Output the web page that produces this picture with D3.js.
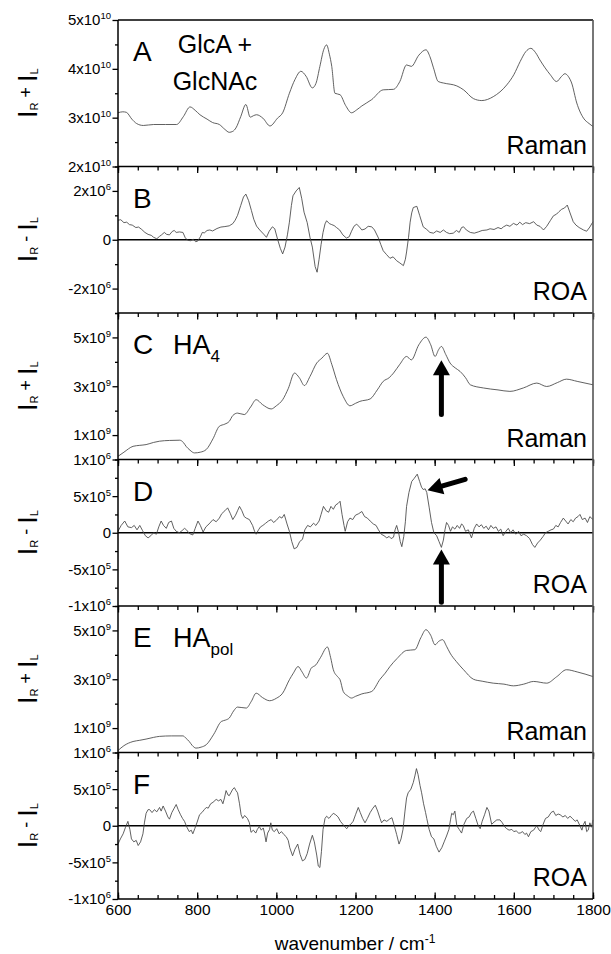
<!DOCTYPE html>
<html>
<head>
<meta charset="utf-8">
<script src="https://cdnjs.cloudflare.com/ajax/libs/d3/7.8.5/d3.min.js"></script>
<style>
  body { margin: 0; background: #fff; }
  svg text { font-family: "Liberation Sans", Arial, sans-serif; fill: #000; }
</style>
</head>
<body>
<div id="chart"></div>
<script>
// wavenumber ticks
var xTicks = [600, 800, 1000, 1200, 1400, 1600, 1800];
var xMinor = d3.range(600, 1801, 50);

// A: GlcA + GlcNAc Raman (units 1e10)
var glcRaman = [[600,3.10],[612,3.12],[621,3.11],[635,2.97],[647,2.88],[664,2.84],[690,2.86],[720,2.86],[748,2.86],[765,3.02],[782,3.22],[795,3.15],[807,3.06],[825,2.97],[839,2.90],[856,2.86],[870,2.76],[881,2.70],[890,2.72],[898,2.79],[910,3.02],[923,3.27],[934,3.01],[942,3.04],[950,3.06],[966,2.99],[984,2.83],[1003,2.99],[1016,3.10],[1033,3.50],[1047,3.78],[1062,3.95],[1075,3.85],[1091,3.61],[1100,3.70],[1110,4.05],[1120,4.40],[1127,4.49],[1134,4.30],[1140,4.05],[1148,3.50],[1161,3.47],[1175,3.25],[1190,3.10],[1203,3.16],[1216,3.24],[1241,3.37],[1270,3.57],[1296,3.58],[1312,3.74],[1329,4.08],[1341,4.05],[1360,4.28],[1378,4.39],[1388,4.25],[1397,4.02],[1409,3.74],[1422,3.71],[1456,3.65],[1473,3.57],[1498,3.39],[1519,3.35],[1548,3.43],[1582,3.67],[1600,3.88],[1616,4.15],[1630,4.35],[1643,4.42],[1655,4.33],[1666,4.18],[1692,3.88],[1708,3.74],[1720,3.84],[1729,3.90],[1738,3.84],[1746,3.71],[1759,3.30],[1776,2.99],[1790,2.88],[1800,2.82]];

// B: GlcA + GlcNAc ROA (units 1e6)
var glcROA = [[600,0.80],[607,0.82],[615,0.70],[622,0.72],[629,0.62],[636,0.60],[645,0.50],[652,0.52],[660,0.42],[668,0.30],[676,0.22],[684,0.18],[690,0.10],[698,0.04],[705,0.14],[710,0.20],[717,0.30],[723,0.22],[730,0.20],[737,0.34],[742,0.38],[747,0.30],[755,0.32],[764,0.30],[770,0.08],[776,-0.02],[783,-0.04],[790,0.02],[796,-0.08],[801,-0.06],[808,0.12],[813,0.30],[818,0.28],[825,0.38],[832,0.40],[839,0.36],[850,0.46],[860,0.52],[870,0.54],[881,0.57],[890,0.66],[896,0.80],[902,1.00],[910,1.40],[917,1.75],[923,1.87],[930,1.60],[937,1.20],[943,0.84],[950,0.56],[958,0.40],[968,0.23],[975,0.10],[982,0.35],[990,0.53],[996,0.45],[1003,0.03],[1010,-0.35],[1016,-0.58],[1022,-0.30],[1028,0.20],[1033,0.72],[1038,1.40],[1042,1.80],[1050,2.00],[1058,2.14],[1064,1.70],[1070,1.13],[1078,0.70],[1085,0.10],[1091,-0.30],[1098,-1.10],[1103,-1.33],[1108,-0.80],[1113,-0.20],[1118,0.30],[1123,0.65],[1127,0.78],[1134,0.66],[1140,0.62],[1146,0.58],[1152,0.50],[1160,0.40],[1168,0.20],[1177,0.07],[1184,0.12],[1190,0.35],[1196,0.55],[1203,0.64],[1210,0.52],[1216,0.40],[1224,0.44],[1232,0.55],[1241,0.53],[1248,0.40],[1258,0.07],[1264,-0.20],[1270,-0.45],[1278,-0.60],[1287,-0.76],[1295,-0.70],[1304,-0.86],[1312,-0.95],[1321,-1.06],[1326,-0.80],[1329,-0.50],[1334,0.10],[1338,0.72],[1342,1.10],[1346,1.32],[1355,1.37],[1362,1.00],[1371,0.53],[1380,0.42],[1388,0.30],[1397,0.27],[1405,0.36],[1414,0.30],[1422,0.40],[1430,0.30],[1438,0.25],[1447,0.27],[1455,0.38],[1462,0.30],[1468,0.50],[1473,0.53],[1480,0.40],[1490,0.30],[1500,0.27],[1510,0.32],[1520,0.38],[1532,0.40],[1540,0.45],[1550,0.42],[1560,0.50],[1568,0.45],[1574,0.53],[1582,0.60],[1590,0.55],[1599,0.67],[1608,0.60],[1615,0.72],[1622,0.62],[1630,0.70],[1640,0.66],[1650,0.74],[1658,0.60],[1666,0.55],[1675,0.40],[1683,0.55],[1692,0.78],[1700,0.98],[1708,1.05],[1714,1.15],[1721,1.25],[1728,1.30],[1735,1.42],[1742,1.10],[1750,0.74],[1757,0.60],[1765,0.50],[1776,0.40],[1784,0.35],[1792,0.52],[1800,0.74]];

// C: HA4 Raman (units 1e9)
var ha4Raman = [[600,0.13],[615,0.30],[638,0.54],[655,0.58],[671,0.61],[690,0.70],[705,0.75],[730,0.78],[756,0.79],[765,0.70],[772,0.54],[782,0.38],[793,0.27],[808,0.30],[823,0.41],[840,0.85],[856,1.36],[870,1.45],[881,1.56],[890,1.80],[902,1.90],[919,1.84],[935,2.15],[949,2.45],[965,2.25],[987,2.07],[1000,2.20],[1016,2.45],[1030,2.90],[1046,3.54],[1058,3.35],[1071,3.03],[1085,3.40],[1102,3.95],[1115,4.15],[1129,4.35],[1140,3.90],[1152,3.27],[1169,2.58],[1186,2.20],[1200,2.30],[1211,2.38],[1237,2.48],[1255,2.85],[1270,3.20],[1285,3.35],[1296,3.54],[1312,3.90],[1329,4.22],[1341,4.08],[1360,4.70],[1378,5.01],[1390,4.70],[1401,4.22],[1410,4.50],[1417,4.63],[1428,4.30],[1439,3.95],[1452,3.75],[1464,3.61],[1478,3.35],[1490,3.06],[1523,2.93],[1560,2.85],[1590,2.79],[1624,2.93],[1658,3.13],[1683,2.99],[1710,3.15],[1733,3.29],[1760,3.20],[1800,3.06]];

// D: HA4 ROA (units 1e6)
var ha4ROA = [[600,0.02],[608,0.10],[617,0.16],[625,0.08],[634,0.07],[641,0.10],[648,0.04],[655,0.10],[662,0.03],[669,-0.04],[676,-0.07],[683,-0.04],[690,0.00],[697,-0.02],[703,0.08],[709,0.16],[715,0.10],[722,0.06],[728,0.14],[735,0.16],[741,0.06],[747,0.02],[755,0.00],[762,0.03],[768,0.06],[773,0.04],[780,-0.01],[789,-0.03],[795,0.06],[802,0.16],[808,0.10],[815,0.01],[822,0.08],[830,0.12],[840,0.18],[848,0.15],[856,0.20],[862,0.26],[870,0.30],[877,0.34],[884,0.26],[890,0.18],[897,0.24],[902,0.30],[907,0.36],[913,0.30],[919,0.22],[924,0.20],[932,0.18],[940,0.10],[945,0.02],[949,-0.02],[955,0.04],[960,0.08],[966,0.10],[973,0.13],[980,0.16],[987,0.18],[993,0.14],[1000,0.17],[1008,0.22],[1014,0.20],[1020,0.25],[1027,0.12],[1033,0.02],[1039,-0.12],[1045,-0.22],[1052,-0.20],[1059,-0.12],[1066,-0.09],[1072,0.04],[1079,0.10],[1086,0.08],[1094,0.13],[1100,0.10],[1108,0.16],[1113,0.25],[1119,0.36],[1126,0.30],[1132,0.28],[1138,0.36],[1144,0.32],[1150,0.38],[1156,0.40],[1161,0.43],[1166,0.25],[1171,0.10],[1174,0.02],[1180,0.15],[1186,0.20],[1193,0.18],[1200,0.24],[1208,0.26],[1216,0.29],[1223,0.22],[1230,0.20],[1237,0.16],[1245,0.12],[1252,0.10],[1258,0.04],[1265,-0.02],[1272,-0.04],[1279,-0.07],[1285,-0.05],[1290,-0.08],[1296,-0.06],[1300,0.04],[1304,0.10],[1309,0.00],[1313,-0.12],[1317,-0.19],[1322,-0.05],[1326,0.15],[1329,0.36],[1335,0.55],[1342,0.70],[1348,0.74],[1356,0.80],[1362,0.70],[1367,0.62],[1371,0.59],[1376,0.60],[1380,0.55],[1386,0.35],[1392,0.14],[1398,0.00],[1405,-0.04],[1411,-0.12],[1417,-0.20],[1422,-0.10],[1426,0.04],[1430,0.14],[1435,0.10],[1440,0.02],[1445,0.08],[1451,0.05],[1457,0.10],[1463,0.06],[1468,0.12],[1472,0.10],[1478,0.02],[1485,0.04],[1493,-0.07],[1500,0.06],[1506,0.12],[1512,0.08],[1518,0.11],[1524,0.06],[1530,0.09],[1536,0.04],[1542,0.10],[1548,0.06],[1555,0.08],[1561,0.02],[1567,0.05],[1573,-0.04],[1580,0.02],[1586,0.06],[1592,0.00],[1598,0.04],[1605,-0.02],[1612,0.02],[1618,-0.04],[1625,-0.02],[1632,-0.04],[1640,-0.08],[1647,-0.16],[1653,-0.20],[1660,-0.14],[1667,-0.10],[1674,-0.05],[1680,0.00],[1687,0.02],[1694,0.04],[1700,0.05],[1706,0.10],[1712,0.08],[1718,0.14],[1725,0.20],[1731,0.16],[1737,0.12],[1744,0.18],[1750,0.15],[1756,0.20],[1762,0.22],[1767,0.25],[1773,0.18],[1780,0.20],[1786,0.14],[1792,0.22],[1800,0.18]];

// E: HApol Raman (units 1e9)
var hapolRaman = [[600,0.08],[615,0.28],[638,0.45],[655,0.50],[671,0.55],[690,0.62],[705,0.66],[735,0.68],[764,0.68],[772,0.58],[780,0.45],[788,0.28],[797,0.18],[810,0.22],[823,0.32],[842,0.75],[861,1.27],[872,1.33],[881,1.41],[892,1.70],[902,1.86],[924,1.82],[937,2.10],[949,2.43],[965,2.25],[983,2.12],[1000,2.22],[1016,2.43],[1033,2.98],[1043,3.25],[1055,3.52],[1065,3.30],[1076,3.05],[1088,3.45],[1100,3.59],[1112,3.90],[1129,4.32],[1137,3.90],[1144,3.39],[1155,3.10],[1161,2.98],[1169,2.50],[1180,2.32],[1190,2.23],[1200,2.30],[1216,2.40],[1241,2.50],[1262,3.00],[1275,3.25],[1287,3.52],[1305,3.85],[1329,4.18],[1350,4.21],[1365,4.70],[1378,5.03],[1390,4.80],[1401,4.41],[1410,4.55],[1420,4.62],[1430,4.35],[1439,4.07],[1455,3.72],[1473,3.39],[1498,3.00],[1520,2.92],[1548,2.84],[1575,2.80],[1599,2.73],[1625,2.80],[1650,2.91],[1683,2.84],[1708,3.10],[1733,3.39],[1760,3.30],[1800,3.11]];

// F: HApol ROA (units 1e6)
var hapolROA = [[600,-0.25],[606,-0.18],[613,-0.11],[619,-0.02],[625,0.06],[630,-0.05],[634,-0.18],[640,-0.22],[646,-0.20],[651,-0.27],[657,-0.22],[663,-0.11],[667,0.05],[671,0.17],[676,0.22],[680,0.22],[686,0.18],[692,0.22],[698,0.19],[705,0.25],[709,0.20],[714,0.27],[720,0.20],[726,0.12],[730,0.09],[736,0.18],[742,0.24],[747,0.29],[752,0.22],[758,0.15],[763,0.10],[768,0.06],[774,-0.02],[780,-0.08],[785,-0.06],[789,-0.11],[794,-0.04],[800,0.05],[806,0.15],[812,0.18],[818,0.22],[823,0.25],[828,0.24],[834,0.30],[840,0.32],[848,0.36],[854,0.34],[860,0.36],[865,0.30],[869,0.38],[873,0.48],[878,0.42],[881,0.41],[886,0.46],[890,0.50],[894,0.52],[898,0.48],[902,0.45],[907,0.30],[911,0.15],[915,0.10],[920,0.14],[927,0.10],[932,0.04],[936,-0.09],[942,-0.06],[948,-0.10],[952,-0.05],[957,-0.01],[962,-0.06],[967,-0.03],[970,-0.10],[974,-0.22],[978,-0.10],[983,-0.05],[986,0.04],[990,-0.06],[995,-0.08],[1001,-0.04],[1007,-0.11],[1013,-0.08],[1019,-0.12],[1025,-0.15],[1030,-0.20],[1034,-0.30],[1041,-0.41],[1047,-0.32],[1054,-0.25],[1060,-0.39],[1066,-0.48],[1072,-0.46],[1078,-0.38],[1084,-0.25],[1091,-0.13],[1096,-0.22],[1102,-0.40],[1106,-0.55],[1110,-0.57],[1114,-0.35],[1118,-0.05],[1123,0.10],[1127,0.13],[1133,0.10],[1139,0.14],[1144,0.17],[1150,0.15],[1156,0.12],[1162,0.06],[1168,0.02],[1174,-0.02],[1178,-0.04],[1183,0.00],[1188,0.02],[1194,0.06],[1200,0.15],[1207,0.25],[1212,0.18],[1218,0.10],[1224,0.04],[1230,0.10],[1237,0.18],[1244,0.24],[1250,0.28],[1256,0.20],[1262,0.10],[1266,0.04],[1272,0.08],[1279,0.06],[1286,0.09],[1292,0.11],[1298,0.00],[1304,-0.12],[1310,-0.25],[1315,-0.18],[1320,-0.05],[1325,0.20],[1329,0.38],[1333,0.45],[1340,0.50],[1346,0.59],[1350,0.68],[1354,0.78],[1358,0.70],[1363,0.55],[1367,0.45],[1372,0.30],[1377,0.18],[1380,0.10],[1386,-0.05],[1392,-0.15],[1398,-0.18],[1404,-0.28],[1411,-0.36],[1418,-0.30],[1424,-0.22],[1430,-0.14],[1436,-0.05],[1440,0.08],[1443,0.17],[1447,0.15],[1451,0.20],[1456,0.00],[1462,-0.05],[1468,-0.10],[1474,0.02],[1481,0.10],[1487,0.12],[1493,0.18],[1498,0.20],[1504,0.10],[1510,0.00],[1515,-0.04],[1520,0.06],[1526,0.15],[1532,0.25],[1537,0.20],[1544,0.02],[1550,0.05],[1557,0.08],[1565,0.08],[1571,0.04],[1576,-0.01],[1582,-0.04],[1588,-0.06],[1595,-0.05],[1600,-0.08],[1606,-0.07],[1612,-0.10],[1616,-0.10],[1622,-0.08],[1628,-0.12],[1632,-0.10],[1637,-0.15],[1643,-0.08],[1650,-0.06],[1655,-0.02],[1658,0.00],[1664,-0.06],[1668,-0.08],[1674,0.02],[1680,0.10],[1687,0.12],[1694,0.18],[1700,0.20],[1706,0.14],[1712,0.16],[1717,0.15],[1724,0.12],[1730,0.14],[1736,0.10],[1742,0.13],[1748,0.10],[1755,0.06],[1760,0.08],[1767,0.00],[1772,-0.06],[1776,0.02],[1780,0.06],[1784,-0.08],[1788,-0.06],[1792,0.04],[1796,-0.02],[1800,0.08]];

// y tick labels: [value, text, superscript]
var aLabels = [[5,"5x10","10"],[4,"4x10","10"],[3,"3x10","10"],[2,"2x10","10"]];
var bLabels = [[2,"2x10","6"],[0,"0",""],[-2,"-2x10","6"]];
var ramanHALabels = [[5,"5x10","9"],[3,"3x10","9"],[1,"1x10","9"]];
var roaHALabels = [[1,"1x10","6"],[0.5,"5x10","5"],[0,"0",""],[-0.5,"-5x10","5"],[-1,"-1x10","6"]];

// arrows drawn in panels C and D: [panel, x0, y0, x1 (tip), y1 (tip)]
var arrowMarks = [[2,1417,1.84,1417,4.06],[3,1417,-0.95,1417,-0.23],[3,1477,0.73,1382,0.58]];

var panels = [
  {data: glcRaman, domain: [2, 5], major: [2,3,4,5], minor: [2.5,3.5,4.5], labels: aLabels, sign: "+", letter: "A", tag: "Raman", smooth: true},
  {data: glcROA, domain: [-3, 3], major: [-2,0,2], minor: [-3,-1,1,3], labels: bLabels, sign: "-", letter: "B", tag: "ROA", zero: true},
  {data: ha4Raman, domain: [0, 6], major: [1,3,5], minor: [0,2,4,6], labels: ramanHALabels, sign: "+", letter: "C", tag: "Raman", smooth: true, sub: "4"},
  {data: ha4ROA, domain: [-1, 1], major: [-1,-0.5,0,0.5,1], minor: [-0.75,-0.25,0.25,0.75], labels: roaHALabels, sign: "-", letter: "D", tag: "ROA", zero: true},
  {data: hapolRaman, domain: [0, 6], major: [1,3,5], minor: [0,2,4,6], labels: ramanHALabels, sign: "+", letter: "E", tag: "Raman", smooth: true, sub: "pol"},
  {data: hapolROA, domain: [-1, 1], major: [-1,-0.5,0,0.5,1], minor: [-0.75,-0.25,0.25,0.75], labels: roaHALabels, sign: "-", letter: "F", tag: "ROA", zero: true}
];

var width = 611, height = 954;
var left = 118, right = 593, top0 = 20, ph = 146.5;

var svg = d3.select("#chart").append("svg")
  .attr("width", width)
  .attr("height", height);

var x = d3.scaleLinear().domain([600, 1800]).range([left, right]);

panels.forEach(function(p, i){
  var top = top0 + i*ph, bottom = top + ph;
  var y = d3.scaleLinear().domain(p.domain).range([bottom, top]);
  p.y = y;
  var g = svg.append("g");

  // ticks on the top edge of every panel after the first
  if (i > 0) {
    var tMinor = g.append("g").attr("transform", "translate(0," + top + ")")
      .call(d3.axisBottom(x).tickValues(xMinor).tickSize(4).tickFormat(""));
    var tMajor = g.append("g").attr("transform", "translate(0," + top + ")")
      .call(d3.axisBottom(x).tickValues(xTicks).tickSize(6.5).tickFormat(""));
    tMinor.select(".domain").remove();
    tMajor.select(".domain").remove();
  }

  // left axis ticks (outward)
  var lMinor = g.append("g").attr("transform", "translate(" + left + ",0)")
    .call(d3.axisLeft(y).tickValues(p.minor).tickSize(3).tickFormat(""));
  var lMajor = g.append("g").attr("transform", "translate(" + left + ",0)")
    .call(d3.axisLeft(y).tickValues(p.major).tickSize(5.5).tickFormat(""));
  lMinor.select(".domain").remove();
  lMajor.select(".domain").remove();
  g.selectAll(".tick line").attr("stroke", "#000").attr("stroke-width", 1.3);

  // tick labels with superscripts
  p.labels.forEach(function(l){
    var t = g.append("text")
      .attr("x", 111)
      .attr("y", y(l[0]))
      .attr("dy", "0.36em")
      .attr("text-anchor", "end")
      .style("font-size", "15px");
    t.append("tspan").text(l[1]);
    if (l[2]) t.append("tspan").attr("dy", -6).style("font-size", "9.5px").text(l[2]);
  });

  // separator on top of each panel
  g.append("line")
    .attr("x1", left).attr("x2", right)
    .attr("y1", top).attr("y2", top)
    .attr("stroke", "#000").attr("stroke-width", 1.5);

  if (p.zero) {
    g.append("line")
      .attr("x1", left).attr("x2", right)
      .attr("y1", y(0)).attr("y2", y(0))
      .attr("stroke", "#000").attr("stroke-width", 1.3);
  }

  var line = d3.line()
    .x(function(d){ return x(d[0]); })
    .y(function(d){ return y(d[1]); })
    .curve(p.smooth ? d3.curveMonotoneX : d3.curveLinear);

  g.append("path")
    .datum(p.data)
    .attr("d", line)
    .attr("fill", "none")
    .attr("stroke", "#444")
    .attr("stroke-width", 0.85);

  // panel letter and tag
  g.append("text")
    .attr("x", 133).attr("y", top + 41)
    .style("font-size", "28px")
    .text(p.letter);

  g.append("text")
    .attr("x", 587).attr("y", bottom - 13)
    .attr("text-anchor", "end")
    .style("font-size", "25px")
    .text(p.tag);

  if (p.sub) {
    var ht = g.append("text")
      .attr("x", 173).attr("y", top + 41)
      .style("font-size", "27px");
    ht.append("tspan").text("HA");
    ht.append("tspan").attr("dy", 8).style("font-size", "17px").text(p.sub);
  }

  // y axis title
  var yl = g.append("text")
    .attr("transform", "translate(37," + ((top + bottom)/2) + ") rotate(-90)")
    .attr("text-anchor", "middle")
    .style("font-size", "27px");
  yl.append("tspan").text("I");
  yl.append("tspan").attr("dy", 1).style("font-size", "11px").text("R");
  yl.append("tspan").attr("dy", -6).style("font-size", "18px").text(p.sign == "+" ? " + " : " - ");
  yl.append("tspan").attr("dy", 5).text("I");
  yl.append("tspan").attr("dy", 1).style("font-size", "11px").text("L");
});

// sample name in panel A
svg.append("text").attr("x", 215).attr("y", top0 + 33)
  .attr("text-anchor", "middle").style("font-size", "25px").text("GlcA +");
svg.append("text").attr("x", 215).attr("y", top0 + 70)
  .attr("text-anchor", "middle").style("font-size", "25px").text("GlcNAc");

// left axis line, right border, bottom axis
var bottomY = top0 + 6*ph;
svg.append("line").attr("x1", left).attr("x2", left).attr("y1", top0).attr("y2", bottomY)
  .attr("stroke", "#000").attr("stroke-width", 1.5);
svg.append("line").attr("x1", right).attr("x2", right).attr("y1", top0).attr("y2", bottomY)
  .attr("stroke", "#555").attr("stroke-width", 1.6);
svg.append("line").attr("x1", left).attr("x2", right).attr("y1", bottomY).attr("y2", bottomY)
  .attr("stroke", "#000").attr("stroke-width", 1.5);

var bMinor = svg.append("g").attr("transform", "translate(0," + bottomY + ")")
  .call(d3.axisTop(x).tickValues(xMinor).tickSize(4).tickFormat(""));
var bMajor = svg.append("g").attr("transform", "translate(0," + bottomY + ")")
  .call(d3.axisTop(x).tickValues(xTicks).tickSize(6.5).tickFormat(""));
var bLab = svg.append("g").attr("transform", "translate(0," + bottomY + ")")
  .call(d3.axisBottom(x).tickValues(xTicks).tickSize(0).tickPadding(5).tickFormat(d3.format("d")));
bMinor.select(".domain").remove();
bMajor.select(".domain").remove();
bLab.select(".domain").remove();
svg.selectAll(".tick line").attr("stroke", "#000").attr("stroke-width", 1.3);
bLab.selectAll("text").style("font-size", "15.5px")
  .style("font-family", "'Liberation Sans', Arial, sans-serif").attr("fill", "#000");

var xt = svg.append("text").attr("x", 355).attr("y", 950)
  .attr("text-anchor", "middle").style("font-size", "19px");
xt.append("tspan").text("wavenumber / cm");
xt.append("tspan").attr("dy", -7).style("font-size", "12px").text("-1");

// arrows
arrowMarks.forEach(function(a){
  var y = panels[a[0]].y;
  var x0 = x(a[1]), y0 = y(a[2]), x1 = x(a[3]), y1 = y(a[4]);
  var dx = x1 - x0, dy = y1 - y0, len = Math.sqrt(dx*dx + dy*dy);
  var ux = dx/len, uy = dy/len;
  var hl = 15, hw = 8.5;
  var bx = x1 - ux*hl, by = y1 - uy*hl;
  svg.append("line")
    .attr("x1", x0).attr("y1", y0)
    .attr("x2", bx + ux*2).attr("y2", by + uy*2)
    .attr("stroke", "#000").attr("stroke-width", 5).attr("stroke-linecap", "round");
  svg.append("polygon")
    .attr("points", [[x1, y1], [bx - uy*hw, by + ux*hw], [bx + uy*hw, by - ux*hw]]
      .map(function(d){ return d.join(","); }).join(" "))
    .attr("fill", "#000");
});
</script>
</body>
</html>
